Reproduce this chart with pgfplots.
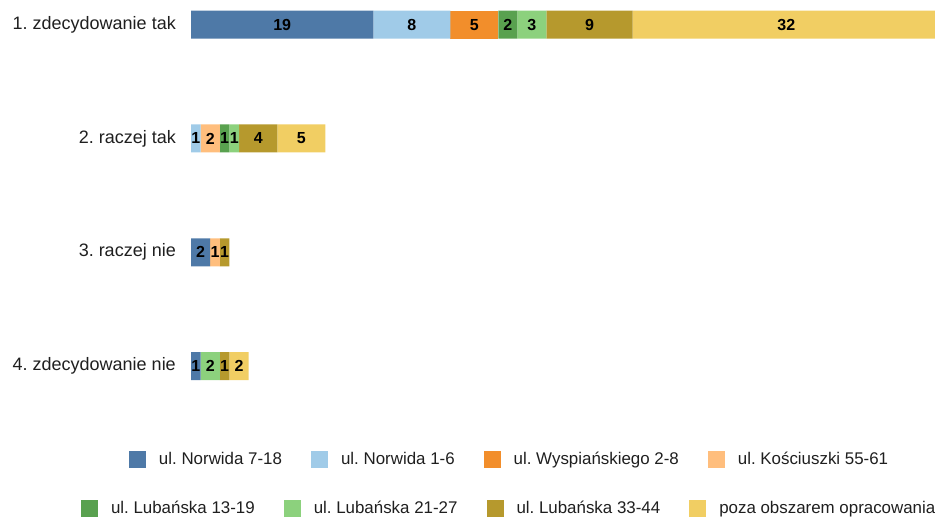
\documentclass[border=0pt]{standalone}
\usepackage{pgfplots}
\pgfplotsset{compat=1.18}
\usepackage{fontspec}
\setmainfont{Liberation Sans}
\frenchspacing

\definecolor{nw1}{HTML}{4E79A7}
\definecolor{nw2}{HTML}{A0CBE8}
\definecolor{wys}{HTML}{F28E2B}
\definecolor{kos}{HTML}{FFBE7D}
\definecolor{lu1}{HTML}{59A14F}
\definecolor{lu2}{HTML}{8CD17D}
\definecolor{lu3}{HTML}{B6992D}
\definecolor{poz}{HTML}{F1CE63}

\pgfplotsset{
  seg/.style={fill=#1, draw=none,
    point meta=explicit symbolic,
    nodes near coords={\ifnum\pgfplotspointmeta=0 \else\pgfplotspointmeta\fi},
    every node near coord/.append style={anchor=center, inner sep=0pt,
      font=\fontsize{16bp}{18bp}\selectfont\bfseries, text=black}},
  legaxis/.style={
    at={(191bp,-1.9bp)}, anchor=north west,
    scale only axis, width=749bp, height=386.9bp,
    hide axis, xmin=0, xmax=1, ymin=0, ymax=1,
    legend columns=4,
    legend image code/.code={\fill[##1] (0bp,-8.5bp) rectangle (17bp,8.5bp);},
    legend style={draw=none, fill=none, inner sep=0pt, outer sep=0pt,
      anchor=west,
      nodes={inner sep=0pt, font=\fontsize{16.9bp}{20bp}\selectfont, text=black!88},
      /tikz/every odd column/.append style={column sep=13bp},
      /tikz/every even column/.append style={column sep=29bp}},
  },
}

\begin{document}
\begin{tikzpicture}
\path[use as bounding box] (0,0) rectangle (935bp,-519bp);

\begin{axis}[
  at={(191bp,-1.9bp)}, anchor=north west,
  scale only axis, width=749bp, height=386.9bp,
  xbar stacked, bar width=28bp,
  y dir=reverse,
  xmin=0, xmax=78, ymin=-0.2, ymax=3.2,
  axis line style={draw=none},
  major tick length=0pt,
  xtick=\empty,
  ytick={0,1,2,3},
  yticklabels={1. zdecydowanie tak, 2. raczej tak, 3. raczej nie, 4. zdecydowanie nie},
  yticklabel style={anchor=east, inner sep=0pt, xshift=-15bp,
    font=\fontsize{18bp}{20bp}\selectfont, text=black!88},
  clip=false,
]
\addplot[seg=nw1] coordinates {(19,0) [19] (0,1) [0] (2,2) [2] (1,3) [1]};
\addplot[seg=nw2] coordinates {(8,0) [8] (1,1) [1] (0,2) [0] (0,3) [0]};
\addplot[seg=wys] coordinates {(5,0) [5] (0,1) [0] (0,2) [0] (0,3) [0]};
\addplot[seg=kos] coordinates {(0,0) [0] (2,1) [2] (1,2) [1] (0,3) [0]};
\addplot[seg=lu1] coordinates {(2,0) [2] (1,1) [1] (0,2) [0] (0,3) [0]};
\addplot[seg=lu2] coordinates {(3,0) [3] (1,1) [1] (0,2) [0] (2,3) [2]};
\addplot[seg=lu3] coordinates {(9,0) [9] (4,1) [4] (1,2) [1] (1,3) [1]};
\addplot[seg=poz] coordinates {(32,0) [32] (5,1) [5] (0,2) [0] (2,3) [2]};
\end{axis}

\begin{axis}[legaxis, legend style={at={(0,0)}, xshift=-62bp, yshift=-70.2bp}]
\addlegendimage{fill=nw1, draw=none}
\addlegendimage{fill=nw2, draw=none}
\addlegendimage{fill=wys, draw=none}
\addlegendimage{fill=kos, draw=none}
\legend{ul. Norwida 7-18, ul. Norwida 1-6, ul. Wyspiańskiego 2-8, ul. Kościuszki 55-61}
\end{axis}

\begin{axis}[legaxis, legend style={at={(0,0)}, xshift=-110bp, yshift=-119.2bp}]
\addlegendimage{fill=lu1, draw=none}
\addlegendimage{fill=lu2, draw=none}
\addlegendimage{fill=lu3, draw=none}
\addlegendimage{fill=poz, draw=none}
\legend{ul. Lubańska 13-19, ul. Lubańska 21-27, ul. Lubańska 33-44, poza obszarem opracowania}
\end{axis}
\end{tikzpicture}
\end{document}
